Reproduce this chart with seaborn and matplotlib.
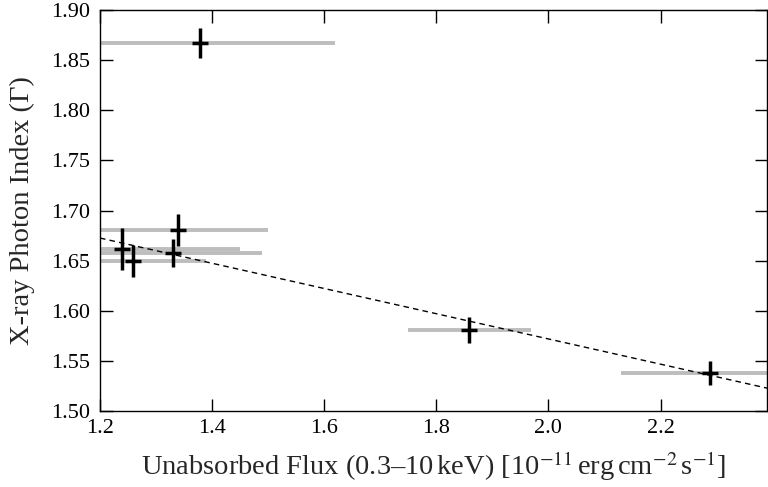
import matplotlib
matplotlib.use("Agg")
import matplotlib.pyplot as plt
import seaborn as sns
import numpy as np
import pandas as pd

# Data
flux = [1.379, 1.239, 1.259, 1.330, 1.339, 1.859, 2.289]
flux_err = [0.241, 0.211, 0.130, 0.159, 0.161, 0.110, 0.159]
gamma = [1.867, 1.662, 1.650, 1.658, 1.681, 1.581, 1.538]
gamma_err = [0.015, 0.021, 0.016, 0.014, 0.016, 0.013, 0.012]

fit_intercept = 1.8235
fit_slope = -0.1258
fit_x = [1.2, 2.39]

xticks = [1.2, 1.4, 1.6, 1.8, 2.0, 2.2]
yticks = [1.50, 1.55, 1.60, 1.65, 1.70, 1.75, 1.80, 1.85, 1.90]

sns.set_theme(style="ticks")
plt.rcParams["font.family"] = ["Liberation Serif", "DejaVu Serif"]
plt.rcParams["mathtext.fontset"] = "stix"

df = pd.DataFrame({"flux": flux, "gamma": gamma})
fit_df = pd.DataFrame({"x": fit_x, "y": [fit_intercept + fit_slope * v for v in fit_x]})

fig = plt.figure(figsize=(7.68, 4.87), dpi=100)
ax = fig.add_axes([0.1302, 0.156, 0.8685, 0.8235])

# grey horizontal flux error bars
ax.errorbar(flux, gamma, xerr=flux_err, fmt="none", ecolor="#bdbdbd",
            elinewidth=2.8, capsize=0, zorder=1)

# dashed fit line
sns.lineplot(data=fit_df, x="x", y="y", ax=ax, color="black", lw=1.0,
             linestyle=(0, (4, 3)), zorder=2)

# black vertical photon index error bars
ax.errorbar(flux, gamma, yerr=gamma_err, fmt="none", ecolor="black",
            elinewidth=2.5, capsize=0, zorder=3)
sns.scatterplot(data=df, x="flux", y="gamma", ax=ax, marker="_", s=140,
                color="black", linewidth=2.5, zorder=4)

ax.set_xlim(1.2, 2.39)
ax.set_ylim(1.50, 1.90)
ax.set_xticks(xticks)
ax.set_xticklabels([f"{v:.1f}" for v in xticks])
ax.set_yticks(yticks)
ax.set_yticklabels([f"{v:.2f}" for v in yticks])

ax.tick_params(direction="in", length=9, width=1.0, top=True, right=True,
               labelsize=16, colors="black")
ax.tick_params(axis="x", pad=6)
ax.tick_params(axis="y", pad=7)
for s in ax.spines.values():
    s.set_visible(True)
    s.set_color("black")
    s.set_linewidth(1.0)

ax.set_xlabel(r"Unabsorbed Flux (0.3–10$\,$keV) [10$^{-11}$$\,$erg$\,$cm$^{-2}$$\,$s$^{-1}$]",
              fontsize=20.5, labelpad=8)
ax.set_ylabel("X-ray Photon Index (Γ)", fontsize=20.5, labelpad=12)

fig.savefig("out.png", dpi=100)
